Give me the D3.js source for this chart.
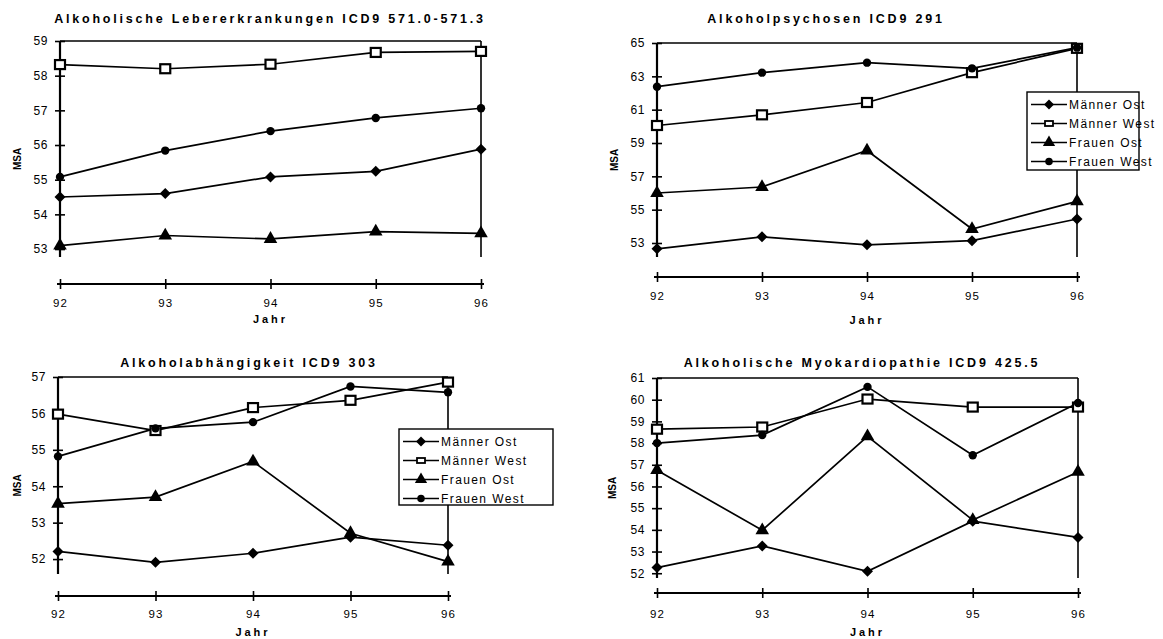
<!DOCTYPE html>
<html>
<head>
<meta charset="utf-8">
<script src="https://cdn.jsdelivr.net/npm/d3@7"></script>
<style>
  body { margin: 0; background: #fff; }
  svg { font-family: Arial, "Liberation Sans", sans-serif; }
</style>
</head>
<body>
<svg id="charts" width="1163" height="639"></svg>
<script>
// --- data ---
const years = ["92", "93", "94", "95", "96"];
const seriesNames = ["Männer Ost", "Männer West", "Frauen Ost", "Frauen West"];
const titles = [
    "Alkoholische Lebererkrankungen ICD9 571.0-571.3",
    "Alkoholpsychosen ICD9 291",
    "Alkoholabhängigkeit ICD9 303",
    "Alkoholische Myokardiopathie ICD9 425.5"
];

// Alkoholische Lebererkrankungen
const leberMOst = [54.50, 54.60, 55.08, 55.24, 55.88];
const leberMWest = [58.32, 58.20, 58.33, 58.67, 58.70];
const leberFOst = [53.10, 53.39, 53.29, 53.50, 53.45];
const leberFWest = [55.08, 55.84, 56.40, 56.78, 57.06];
const leberTicks = [53, 54, 55, 56, 57, 58, 59];

// Alkoholpsychosen
const psychMOst = [52.65, 53.37, 52.89, 53.14, 54.44];
const psychMWest = [60.05, 60.69, 61.43, 63.22, 64.68];
const psychFOst = [56.00, 56.36, 58.55, 53.84, 55.50];
const psychFWest = [62.38, 63.22, 63.82, 63.48, 64.72];
const psychTicks = [53, 55, 57, 59, 61, 63, 65];

// Alkoholabhaengigkeit
const abhMOst = [52.21, 51.91, 52.16, 52.60, 52.38];
const abhMWest = [55.98, 55.53, 56.16, 56.36, 56.86];
const abhFOst = [53.52, 53.70, 54.68, 52.71, 51.93];
const abhFWest = [54.82, 55.59, 55.76, 56.74, 56.58];
const abhTicks = [52, 53, 54, 55, 56, 57];

// Alkoholische Myokardiopathie
const myoMOst = [52.26, 53.26, 52.09, 54.40, 53.65];
const myoMWest = [58.64, 58.74, 60.03, 59.66, 59.66];
const myoFOst = [56.75, 53.98, 58.31, 54.45, 56.67];
const myoFWest = [58.00, 58.37, 60.59, 57.44, 59.85];
const myoTicks = [52, 53, 54, 55, 56, 57, 58, 59, 60, 61];

const panelSeries = [
    [leberMOst, leberMWest, leberFOst, leberFWest],
    [psychMOst, psychMWest, psychFOst, psychFWest],
    [abhMOst, abhMWest, abhFOst, abhFWest],
    [myoMOst, myoMWest, myoFOst, myoFWest]
];
const panelTicks = [leberTicks, psychTicks, abhTicks, myoTicks];

// --- layout (pixels) ---
const layout = [
    { left: 60, right: 481, top: 41, bottom: 257, axisY: 284, floor: 52.77, titleX: 270, titleY: 23, labelY: 307, jahrY: 323, msaX: 17, legend: null },
    { left: 657, right: 1077, top: 43, bottom: 257, axisY: 277, floor: 52.16, titleX: 826, titleY: 23, labelY: 300, jahrY: 324, msaX: 614, legend: { x: 1027, y: 92, w: 112, h: 78 } },
    { left: 58, right: 448, top: 377, bottom: 574, axisY: 596, floor: 51.59, titleX: 249, titleY: 367, labelY: 618, jahrY: 636, msaX: 17, legend: { x: 399, y: 429, w: 154, h: 76 } },
    { left: 657, right: 1078, top: 378, bottom: 578, axisY: 593, floor: 51.78, titleX: 862, titleY: 367, labelY: 618, jahrY: 636, msaX: 612, legend: null }
];

const svg = d3.select("#charts");

function drawMarker(g, type, x, y, small) {
    if (type === 1) {
        // hollow square
        let w = small ? 8 : 10, h = small ? 5 : 9;
        g.append("rect")
            .attr("x", x - w / 2).attr("y", y - h / 2)
            .attr("width", w).attr("height", h)
            .style("fill", "#fff")
            .style("stroke", "#000")
            .style("stroke-width", small ? 1.8 : 2.2);
        return;
    }
    if (type === 0) {
        // square diamond
        let r = small ? 5 : 5.5;
        g.append("path")
            .attr("d", `M${x},${y - r}L${x + r},${y}L${x},${y + r}L${x - r},${y}Z`)
            .style("fill", "#000");
        return;
    }
    let sym = type === 2 ? d3.symbolTriangle : d3.symbolCircle;
    let size = type === 2 ? (small ? 65 : 80) : (small ? 45 : 55);
    g.append("path")
        .attr("d", d3.symbol().type(sym).size(size)())
        .attr("transform", `translate(${x},${y})`)
        .style("fill", "#000");
}

function drawPanel(i) {
    let L = layout[i];
    let ticks = panelTicks[i];
    let g = svg.append("g").attr("class", "panel" + i);

    let x = d3.scalePoint().domain(years).range([L.left, L.right]);
    let y = d3.scaleLinear()
        .domain([L.floor, d3.max(ticks)])
        .range([L.bottom, L.top]);

    /* title */
    g.append("text")
        .text(titles[i])
        .attr("x", L.titleX).attr("y", L.titleY)
        .attr("text-anchor", "middle")
        .style("font-size", "12.5px")
        .style("font-weight", "bold")
        .style("letter-spacing", "2.8px");

    /* frame: top and right */
    g.append("line")
        .attr("x1", L.left).attr("x2", L.right)
        .attr("y1", L.top).attr("y2", L.top)
        .style("stroke", "#000").style("stroke-width", 1.6);
    g.append("line")
        .attr("x1", L.right).attr("x2", L.right)
        .attr("y1", L.top).attr("y2", L.bottom)
        .style("stroke", "#000").style("stroke-width", 1.6);

    /* y axis */
    let yAxis = g.append("g")
        .attr("transform", `translate(${L.left},0)`)
        .call(d3.axisLeft(y).tickValues(ticks).tickSize(5).tickPadding(7).tickFormat(d3.format("d")));
    yAxis.select(".domain").remove();
    yAxis.append("line")
        .attr("y1", L.top).attr("y2", L.bottom)
        .style("stroke", "#000").style("stroke-width", 2.2);
    yAxis.selectAll(".tick line")
        .attr("x1", -5).attr("x2", 5)
        .style("stroke-width", 1.6);
    yAxis.selectAll(".tick text")
        .style("font-size", "12px")
        .style("font-family", "Arial, 'Liberation Sans', sans-serif")
        .style("letter-spacing", "0.6px");

    /* x axis */
    let xAxis = g.append("g")
        .attr("transform", `translate(0,${L.axisY})`)
        .call(d3.axisBottom(x).tickSize(5).tickPadding(0));
    xAxis.select(".domain").remove();
    xAxis.append("line")
        .attr("x1", L.left - 3).attr("x2", L.right + 3)
        .style("stroke", "#000").style("stroke-width", 2.2);
    xAxis.selectAll(".tick line")
        .attr("y1", -5).attr("y2", 5)
        .style("stroke-width", 1.6);
    xAxis.selectAll(".tick text")
        .attr("y", L.labelY - L.axisY)
        .attr("dy", 0)
        .style("font-size", "11.5px")
        .style("font-family", "Arial, 'Liberation Sans', sans-serif")
        .style("letter-spacing", "1px");

    /* axis titles */
    g.append("text")
        .text("Jahr")
        .attr("x", (L.left + L.right) / 2).attr("y", L.jahrY)
        .attr("text-anchor", "middle")
        .style("font-size", "11px")
        .style("font-weight", "bold")
        .style("letter-spacing", "3px");
    let my = (L.top + L.bottom) / 2 + 10;
    g.append("text")
        .text("MSA")
        .attr("transform", `translate(${L.msaX + 4},${my}) rotate(-90)`)
        .attr("text-anchor", "middle")
        .style("font-size", "10px")
        .style("font-weight", "bold");

    /* lines + markers */
    let line = d3.line().x((d, j) => x(years[j])).y(d => y(d));
    panelSeries[i].forEach(function (vals, s) {
        g.append("path")
            .attr("d", line(vals))
            .style("fill", "none")
            .style("stroke", "#000")
            .style("stroke-width", 1.7);
    });
    panelSeries[i].forEach(function (vals, s) {
        vals.forEach(function (v, j) {
            drawMarker(g, s, x(years[j]), y(v), false);
        });
    });

    /* legend */
    if (L.legend) {
        let lg = g.append("g").attr("transform", `translate(${L.legend.x},${L.legend.y})`);
        lg.append("rect")
            .attr("width", L.legend.w).attr("height", L.legend.h)
            .style("fill", "#fff")
            .style("stroke", "#000")
            .style("stroke-width", 1.4);
        seriesNames.forEach(function (name, s) {
            let ry = 12.5 + s * 19;
            lg.append("line")
                .attr("x1", 4).attr("x2", 40)
                .attr("y1", ry).attr("y2", ry)
                .style("stroke", "#000").style("stroke-width", 1.7);
            drawMarker(lg, s, 22, ry, true);
            lg.append("text")
                .text(name)
                .attr("x", 42).attr("y", ry + 4.5)
                .style("font-size", "12px")
                .style("letter-spacing", "1.4px");
        });
    }
}

for (let i = 0; i < 4; i++) drawPanel(i);
</script>
</body>
</html>
